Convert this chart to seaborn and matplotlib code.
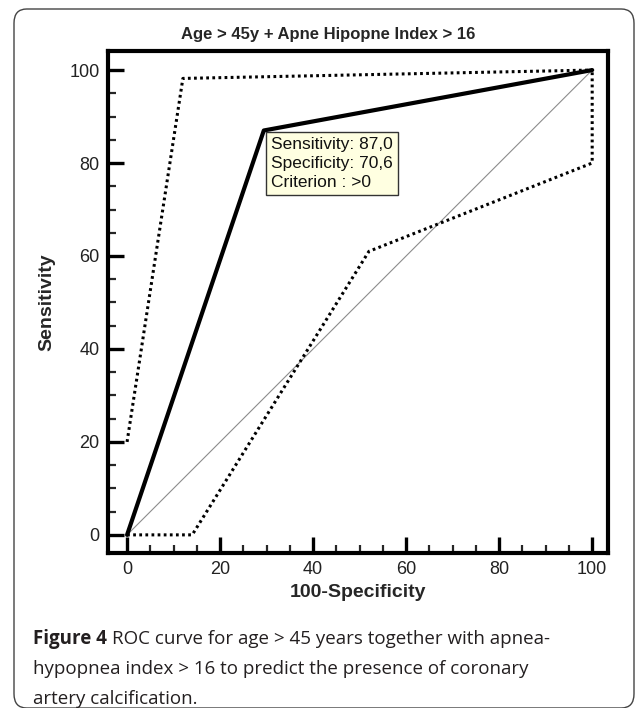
import matplotlib
matplotlib.use('Agg')
import matplotlib.pyplot as plt
import numpy as np
import pandas as pd
import seaborn as sns
from matplotlib.patches import FancyBboxPatch
from matplotlib.ticker import MultipleLocator

sns.set_style('white')
plt.rcParams['font.family'] = ['Liberation Sans', 'DejaVu Sans']

# ROC curve (100-specificity vs sensitivity)
roc_x = [0, 29.4, 100]
roc_y = [0, 87.0, 100]
# upper confidence bound (dotted)
upper_x = [0, 12, 100]
upper_y = [20, 98.2, 100]
# lower confidence bound (dotted)
lower_x = [0, 14, 52, 100, 100]
lower_y = [0, 0, 61, 80, 100]
# reference diagonal
diag_x = [0, 100]
diag_y = [0, 100]

tick_vals = [0, 20, 40, 60, 80, 100]
title = 'Age > 45y + Apne Hipopne Index > 16'
tooltip = 'Sensitivity: 87,0\nSpecificity: 70,6\nCriterion : >0'

fig = plt.figure(figsize=(6.35, 7.08), dpi=100)
ax = fig.add_axes([108/635, 1-553/708, 500/635, 502/708])

sns.lineplot(x=diag_x, y=diag_y, sort=False, estimator=None, ax=ax, color='#8c8c8c', linewidth=0.8)
sns.lineplot(x=upper_x, y=upper_y, sort=False, estimator=None, ax=ax, color='black', linewidth=2.2, linestyle=(0, (0.9, 1.1)))
sns.lineplot(x=lower_x, y=lower_y, sort=False, estimator=None, ax=ax, color='black', linewidth=2.2, linestyle=(0, (0.9, 1.1)))
sns.lineplot(x=roc_x, y=roc_y, sort=False, estimator=None, ax=ax, color='black', linewidth=3.0)

ax.set_xlim(-4.1, 103.4)
ax.set_ylim(-3.9, 104.1)
ax.set_xticks(tick_vals)
ax.set_yticks(tick_vals)
ax.xaxis.set_minor_locator(MultipleLocator(5))
ax.yaxis.set_minor_locator(MultipleLocator(5))
ax.tick_params(which='major', direction='in', length=11.5, width=2.4, labelsize=13, pad=6, colors='black')
ax.tick_params(which='minor', direction='in', length=5.5, width=1.6)
ax.tick_params(axis='both', which='both', bottom=True, left=True, top=False, right=False)
for lab in ax.get_xticklabels() + ax.get_yticklabels():
    lab.set_color('#222222')
for sp in ax.spines.values():
    sp.set_linewidth(3.0)
    sp.set_color('black')

ax.set_xlabel('100-Specificity', fontsize=14, fontweight='bold', labelpad=4)
ax.set_ylabel('Sensitivity', fontsize=14, fontweight='bold', labelpad=10)

# info box at the cut-off point
ax.annotate(tooltip, xy=(roc_x[1], roc_y[1]), xytext=(5, -5), textcoords='offset points',
            ha='left', va='top', fontsize=12.5, linespacing=1.3, color='#111111',
            bbox=dict(boxstyle='square,pad=0.3', facecolor='#ffffe1', edgecolor='#333333', linewidth=1.0))

fig.text(328/635, 1-34/708, title, ha='center', va='center', fontsize=12, fontweight='bold')

# caption
cap_font = ['Open Sans', 'DejaVu Sans']
cap_col = '#231f20'
y1 = 1-639/708
fig4 = fig.text(33/635, y1, 'Figure 4', ha='left', va='center', fontsize=13.5, fontweight='bold',
                family=cap_font, color=cap_col)
fig.canvas.draw()
bb = fig4.get_window_extent()
fig.text((bb.x1 + 5)/635, y1, 'ROC curve for age > 45 years together with apnea-', ha='left', va='center',
         fontsize=13.5, family=cap_font, color=cap_col)
fig.text(33/635, 1-669/708, 'hypopnea index > 16 to predict the presence of coronary', ha='left', va='center',
         fontsize=13.5, family=cap_font, color=cap_col)
fig.text(33/635, 1-699/708, 'artery calcification.', ha='left', va='center',
         fontsize=13.5, family=cap_font, color=cap_col)

# rounded frame
frame = FancyBboxPatch((14/635, 1-708/708), 620/635, 699/708, boxstyle='round,pad=0,rounding_size=0.02',
                       transform=fig.transFigure, facecolor='none', edgecolor='#444444', linewidth=1.0,
                       clip_on=False)
fig.add_artist(frame)

fig.savefig('out.png', dpi=100)
